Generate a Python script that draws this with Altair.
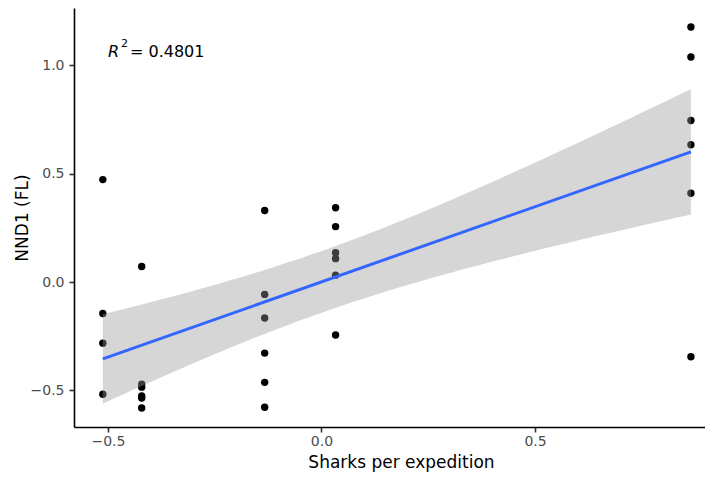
import altair as alt
import pandas as pd
import numpy as np

# Data
x_levels = [-0.512, -0.421, -0.133, 0.033, 0.865]
y_group1 = [0.473, -0.145, -0.282, -0.518]
y_group2 = [0.072, -0.471, -0.485, -0.526, -0.535, -0.581]
y_group3 = [0.330, -0.057, -0.166, -0.328, -0.463, -0.578]
y_group4 = [0.343, 0.256, 0.135, 0.108, 0.032, -0.244]
y_group5 = [1.177, 1.039, 0.746, 0.634, 0.410, -0.345]
x_ticks = [-0.5, 0.0, 0.5]
y_ticks = [-0.5, 0.0, 0.5, 1.0]
r2_label = "= 0.4801"

groups = [y_group1, y_group2, y_group3, y_group4, y_group5]
xs, ys = [], []
for xv, g in zip(x_levels, groups):
    xs += [xv] * len(g)
    ys += g
df = pd.DataFrame({"x": xs, "y": ys})

# Linear-model 95% confidence band (as geom_smooth(method = "lm"))
xa = np.array(xs)
ya = np.array(ys)
n = len(xa)
b1, b0 = np.polyfit(xa, ya, 1)
resid = ya - (b0 + b1 * xa)
s = np.sqrt(np.sum(resid ** 2) / (n - 2))
sxx = np.sum((xa - xa.mean()) ** 2)
t975 = 2.055529  # t quantile, df = 26
grid = np.linspace(xa.min(), xa.max(), 80)
fit = b0 + b1 * grid
se = s * np.sqrt(1.0 / n + (grid - xa.mean()) ** 2 / sxx)
band_df = pd.DataFrame({"x": grid, "lo": fit - t975 * se, "hi": fit + t975 * se})

FONT = "DejaVu Sans"
xscale = alt.Scale(domain=[-0.5795, 0.898], nice=False, zero=False)
yscale = alt.Scale(domain=[-0.669, 1.265], nice=False, zero=False)

xaxis = alt.Axis(
    values=x_ticks, format=".1f", title="Sharks per expedition", grid=False,
    domainColor="black", domainWidth=1.6, tickColor="#333333", tickWidth=1.6,
    tickSize=5, labelPadding=2, labelColor="#4D4D4D", labelFont=FONT,
    labelFontSize=14, titleFont=FONT, titleFontSize=17, titleFontWeight="normal",
    titleColor="black", titleX=327, titleY=40, titleBaseline="alphabetic",
    titleAlign="center",
)
yaxis = alt.Axis(
    values=y_ticks, format=".1f", title="NND1 (FL)", grid=False,
    domainColor="black", domainWidth=1.6, tickColor="#333333", tickWidth=1.6,
    tickSize=5, labelPadding=5, labelColor="#4D4D4D", labelFont=FONT,
    labelFontSize=14, titleFont=FONT, titleFontSize=17, titleFontWeight="normal",
    titleColor="black", titleX=-47, titleY=209.5, titleBaseline="alphabetic",
    titleAlign="center",
)

points = alt.Chart(df).mark_circle(size=55, color="black", opacity=1).encode(
    x=alt.X("x:Q", scale=xscale, axis=xaxis),
    y=alt.Y("y:Q", scale=yscale, axis=yaxis),
)

band = alt.Chart(band_df).mark_area(color="#999999", opacity=0.4).encode(
    x=alt.X("x:Q", scale=xscale),
    y=alt.Y("lo:Q", scale=yscale),
    y2="hi:Q",
)

line = alt.Chart(df).transform_regression(
    "x", "y", extent=[min(xs), max(xs)]
).mark_line(color="#3366FF", strokeWidth=3).encode(
    x=alt.X("x:Q", scale=xscale),
    y=alt.Y("y:Q", scale=yscale),
)

t_r = alt.Chart(pd.DataFrame({"t": ["R"]})).mark_text(
    align="left", baseline="alphabetic", font=FONT, fontStyle="italic",
    fontSize=16, color="black"
).encode(x=alt.value(34), y=alt.value(48.7), text="t:N")

t_sup = alt.Chart(pd.DataFrame({"t": ["2"]})).mark_text(
    align="left", baseline="alphabetic", font=FONT, fontSize=11, color="black"
).encode(x=alt.value(47), y=alt.value(38.7), text="t:N")

t_val = alt.Chart(pd.DataFrame({"t": [r2_label]})).mark_text(
    align="left", baseline="alphabetic", font=FONT, fontSize=16, color="black"
).encode(x=alt.value(56), y=alt.value(48.7), text="t:N")

chart = alt.layer(points, band, line, t_r, t_sup, t_val).properties(
    width=631,
    height=419,
    autosize=alt.AutoSizeParams(type="none"),
    padding={"left": 66, "top": 0, "right": 0, "bottom": 46},
    background="white",
).configure_view(stroke=None)

chart.save("out.html", embed_options={"renderer": "svg", "actions": False})
